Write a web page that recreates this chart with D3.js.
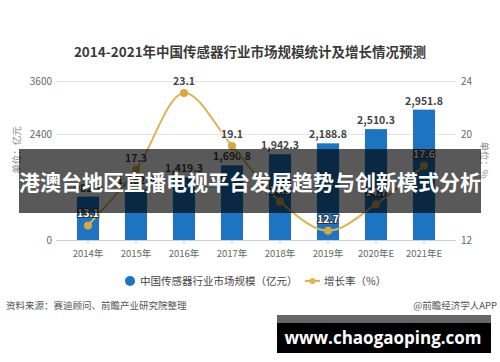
<!DOCTYPE html>
<html>
<head>
<meta charset="utf-8">
<script src="https://cdn.jsdelivr.net/npm/d3@7"></script>
<style>
  body { margin: 0; background: #fff; }
  svg { display: block; font-family: "Noto Sans CJK SC", "Noto Sans", sans-serif; }
</style>
</head>
<body>
<svg id="chart" width="500" height="362"></svg>
<script>
// data
var years = ["2014年", "2015年", "2016年", "2017年", "2018年", "2019年", "2020年E", "2021年E"];
var marketSize = [982.9, 1152.9, 1419.3, 1690.8, 1942.3, 2188.8, 2510.3, 2951.8];
var growthRate = [13.1, 17.3, 23.1, 19.1, 14.9, 12.7, 14.7, 17.6];
var leftTicks = [0, 1200, 2400, 3600];
var rightTicks = [12, 16, 20, 24];

var barColor = "#1c74c2";
var lineColor = "#dcb552";

var svg = d3.select("#chart");

var x = d3.scaleBand().domain(years).range([64, 448]).paddingInner(0.54).paddingOuter(0.27);
var yL = d3.scaleLinear().domain([0, 3600]).range([240, 81]);
var yR = d3.scaleLinear().domain([12, 24]).range([240, 81]);

// title
svg.append("text")
    .attr("x", 250).attr("y", 57)
    .attr("text-anchor", "middle")
    .attr("font-size", 13.5).attr("font-weight", "bold")
    .attr("fill", "#3a3a3a")
    .text("2014-2021年中国传感器行业市场规模统计及增长情况预测");

// grid
svg.append("g").selectAll("line")
    .data(leftTicks)
    .enter().append("line")
    .attr("x1", 56).attr("x2", 456)
    .attr("y1", function(d) { return yL(d) + 0.5; })
    .attr("y2", function(d) { return yL(d) + 0.5; })
    .attr("stroke", function(d) { return d === 0 ? "#ccc" : "#e6e6e6"; });

// left axis labels
svg.append("g").selectAll("text")
    .data(leftTicks)
    .enter().append("text")
    .attr("x", 52).attr("y", function(d) { return yL(d) + 4; })
    .attr("text-anchor", "end")
    .attr("font-size", 10).attr("fill", "#666")
    .text(function(d) { return d === 1200 ? "" : d; });

// right axis labels
svg.append("g").selectAll("text")
    .data(rightTicks)
    .enter().append("text")
    .attr("x", 461).attr("y", function(d) { return yR(d) + 4; })
    .attr("font-size", 10).attr("fill", "#666")
    .text(function(d) { return d === 16 ? "" : d; });

// axis titles
svg.append("text")
    .attr("transform", "translate(20,150) rotate(-90)")
    .attr("text-anchor", "middle")
    .attr("font-size", 9.5).attr("fill", "#888")
    .text("单位：亿元");
svg.append("text")
    .attr("transform", "translate(481,160) rotate(90)")
    .attr("text-anchor", "middle")
    .attr("font-size", 9.5).attr("fill", "#888")
    .text("单位：%");

// x axis ticks and labels
svg.append("g").selectAll("line")
    .data(years)
    .enter().append("line")
    .attr("x1", function(d) { return x(d) + x.bandwidth() / 2; })
    .attr("x2", function(d) { return x(d) + x.bandwidth() / 2; })
    .attr("y1", 240).attr("y2", 244)
    .attr("stroke", "#ccc");
svg.append("g").selectAll("text")
    .data(years)
    .enter().append("text")
    .attr("x", function(d) { return x(d) + x.bandwidth() / 2; })
    .attr("y", 257)
    .attr("text-anchor", "middle")
    .attr("font-size", 9.5).attr("fill", "#666")
    .text(function(d) { return d; });

// bars
svg.append("g").selectAll("rect")
    .data(marketSize)
    .enter().append("rect")
    .attr("x", function(d, i) { return x(years[i]); })
    .attr("y", function(d) { return yL(d); })
    .attr("width", x.bandwidth())
    .attr("height", function(d) { return 240 - yL(d); })
    .attr("fill", barColor);

svg.append("g").selectAll("text")
    .data(marketSize)
    .enter().append("text")
    .attr("x", function(d, i) { return x(years[i]) + x.bandwidth() / 2; })
    .attr("y", function(d) { return yL(d) - 5; })
    .attr("text-anchor", "middle")
    .attr("font-size", 10.5).attr("font-weight", "bold")
    .attr("fill", "#444")
    .text(function(d) { return d3.format(",.1f")(d); });

// growth line
var line = d3.line()
    .x(function(d, i) { return x(years[i]) + x.bandwidth() / 2; })
    .y(function(d) { return yR(d); })
    .curve(d3.curveCatmullRom.alpha(0.5));

svg.append("path")
    .datum(growthRate)
    .attr("d", line)
    .attr("fill", "none")
    .attr("stroke", lineColor)
    .attr("stroke-width", 2);

svg.append("g").selectAll("circle")
    .data(growthRate)
    .enter().append("circle")
    .attr("cx", function(d, i) { return x(years[i]) + x.bandwidth() / 2; })
    .attr("cy", function(d) { return yR(d); })
    .attr("r", 4)
    .attr("fill", "#d6a840");

svg.append("g").selectAll("text")
    .data(growthRate)
    .enter().append("text")
    .attr("x", function(d, i) { return x(years[i]) + x.bandwidth() / 2; })
    .attr("y", function(d) { return yR(d) - 8; })
    .attr("text-anchor", "middle")
    .attr("font-size", 10.5).attr("font-weight", "bold")
    .attr("paint-order", "stroke")
    .attr("stroke-width", 2)
    .each(function(d, i) {
        var inside = yR(d) - 8 > yL(marketSize[i]);
        d3.select(this)
            .attr("fill", inside ? "#fff" : "#444")
            .attr("stroke", inside ? "#333" : "#fff");
    })
    .text(function(d) { return d3.format(".1f")(d); });

// legend
var legend = svg.append("g").attr("font-size", 10.5).attr("fill", "#444");
legend.append("circle").attr("cx", 130).attr("cy", 281).attr("r", 5).attr("fill", barColor);
legend.append("text").attr("x", 140).attr("y", 285).text("中国传感器行业市场规模（亿元）");
legend.append("line").attr("x1", 305).attr("x2", 320).attr("y1", 281).attr("y2", 281)
    .attr("stroke", lineColor).attr("stroke-width", 2);
legend.append("circle").attr("cx", 312.5).attr("cy", 281).attr("r", 3).attr("fill", "#e8b44a");
legend.append("text").attr("x", 324).attr("y", 285).text("增长率（%）");

// source line
svg.append("text")
    .attr("x", 6).attr("y", 309)
    .attr("font-size", 9.5).attr("fill", "#555")
    .text("资料来源：赛迪顾问、前瞻产业研究院整理");
svg.append("text")
    .attr("x", 497).attr("y", 309)
    .attr("text-anchor", "end")
    .attr("font-size", 9.5).attr("fill", "#555")
    .text("@前瞻经济学人APP");

// overlay banner
svg.append("rect")
    .attr("x", 19).attr("y", 149).attr("width", 462).attr("height", 64)
    .attr("fill", "rgba(0,0,0,0.65)");
svg.append("text")
    .attr("x", 250).attr("y", 190)
    .attr("text-anchor", "middle")
    .attr("font-size", 21).attr("font-weight", "bold")
    .attr("fill", "#fff")
    .text("港澳台地区直播电视平台发展趋势与创新模式分析");

// url box
svg.append("rect").attr("x", 277).attr("y", 315).attr("width", 214).attr("height", 38).attr("fill", "#000");
svg.append("rect").attr("x", 277).attr("y", 315).attr("width", 214).attr("height", 8).attr("fill", "#666");
svg.append("text")
    .attr("x", 383).attr("y", 344)
    .attr("text-anchor", "middle")
    .attr("font-family", "'Open Sans', sans-serif")
    .attr("font-size", 17).attr("font-weight", "bold")
    .attr("fill", "#fff")
    .text("www.chaogaoping.com");
</script>
</body>
</html>
